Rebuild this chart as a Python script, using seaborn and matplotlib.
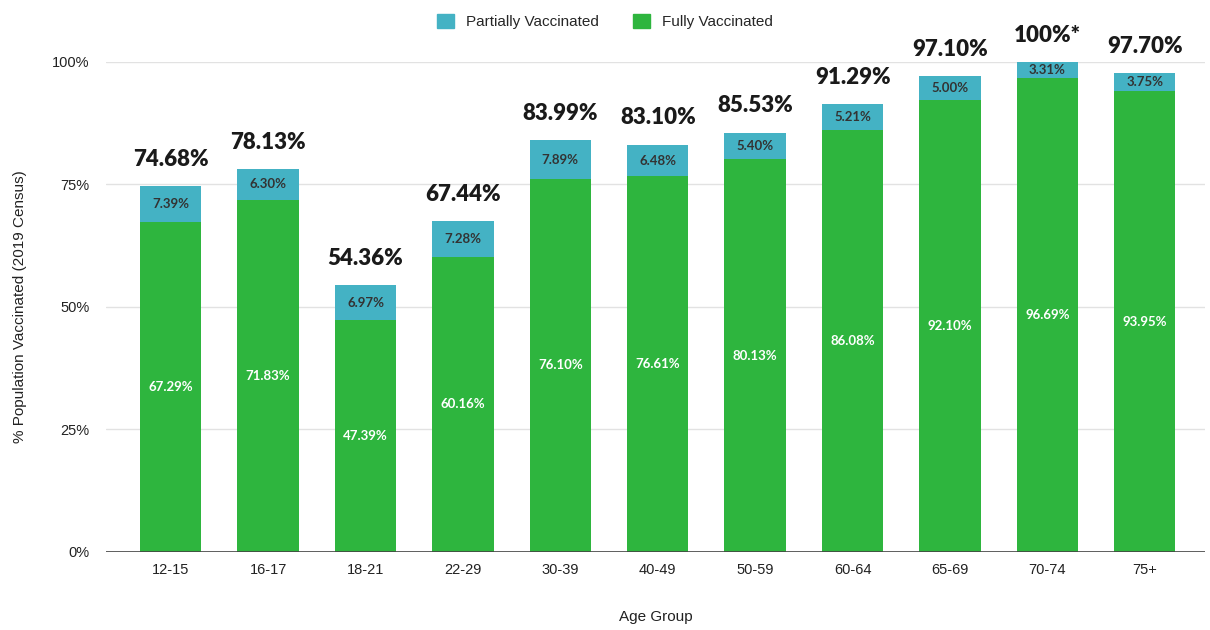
import pandas as pd
import matplotlib.pyplot as plt
import seaborn as sns
from matplotlib.patches import Patch

# dados
idades = ['12-15', '16-17', '18-21', '22-29', '30-39', '40-49', '50-59', '60-64', '65-69', '70-74', '75+']
completo = [67.29, 71.83, 47.39, 60.16, 76.10, 76.61, 80.13, 86.08, 92.10, 96.69, 93.95]
parcial = [7.39, 6.30, 6.97, 7.28, 7.89, 6.48, 5.40, 5.21, 5.00, 3.31, 3.75]
totais = ['74.68%', '78.13%', '54.36%', '67.44%', '83.99%', '83.10%', '85.53%', '91.29%', '97.10%', '100%*', '97.70%']

df = pd.DataFrame({'idade': idades, 'completo': completo, 'parcial': parcial})
df['total'] = df['completo'] + df['parcial']

verde = '#2EB53E'
azul = '#44B2C4'

sns.set_style('white')
plt.rcParams['font.family'] = ['Liberation Sans', 'DejaVu Sans']

fig = plt.figure(figsize=(12.1, 6.3), dpi=100)
ax = fig.add_axes([0.088, 0.124, 0.908, 0.778])

sns.barplot(data=df, x='idade', y='total', color=azul, width=0.63, saturation=1, linewidth=0, ax=ax, zorder=3)
sns.barplot(data=df, x='idade', y='completo', color=verde, width=0.63, saturation=1, linewidth=0, ax=ax, zorder=3)

for i, row in df.iterrows():
    ax.text(i, row['completo'] / 2, f"{row['completo']:.2f}%", ha='center', va='center',
            color='white', fontsize=9.5, fontweight='bold', family='Lato', zorder=4)
    ax.text(i, row['completo'] + row['parcial'] / 2, f"{row['parcial']:.2f}%", ha='center', va='center',
            color='#333333', fontsize=9.5, fontweight='bold', family='Lato', zorder=4)
    ax.text(i, row['total'] + 3.3, totais[i], ha='center', va='bottom', color='#1a1a1a',
            fontsize=16, fontweight='heavy', family='Lato', clip_on=False, zorder=4)

ax.set_ylim(0, 100)
ax.set_xlim(-0.66, 10.62)
ax.set_yticks([0, 25, 50, 75, 100])
ax.set_yticklabels(['0%', '25%', '50%', '75%', '100%'])
ax.yaxis.grid(True, color='#e2e2e2', linewidth=1, zorder=0)
ax.axhline(0, color='#444444', linewidth=1.2, zorder=5)
for s in ax.spines.values():
    s.set_visible(False)
ax.tick_params(axis='both', length=0, labelsize=10.5, colors='#222222')
ax.tick_params(axis='y', pad=12)
ax.tick_params(axis='x', pad=8)

ax.set_xlabel('Age Group', fontsize=11, labelpad=24, color='#222222')
ax.set_ylabel('% Population Vaccinated (2019 Census)', fontsize=11, labelpad=18, color='#222222')

handles = [Patch(color=azul, label='Partially Vaccinated'), Patch(color=verde, label='Fully Vaccinated')]
fig.legend(handles=handles, loc='upper center', bbox_to_anchor=(0.5, 1.0), ncol=2, frameon=False,
           fontsize=11, handlelength=1.1, handleheight=1.1, columnspacing=2.2, handletextpad=0.8)

plt.savefig('out.png', dpi=100)
